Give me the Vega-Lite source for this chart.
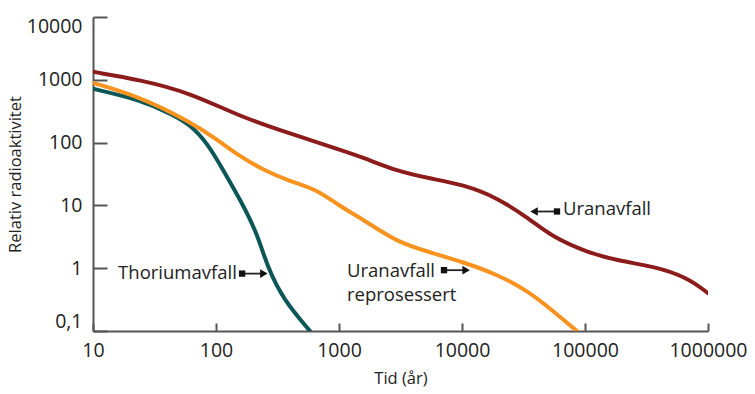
{
  "$schema": "https://vega.github.io/schema/vega-lite/v6.json",
  "width": 615,
  "height": 314,
  "autosize": {"type": "none"},
  "padding": {"left": 93, "top": 17, "right": 47, "bottom": 63},
  "background": "white",
  "config": {
    "view": {"stroke": null},
    "font": "Open Sans",
    "axis": {"grid": false, "domainColor": "#555", "domainWidth": 2, "tickColor": "#555", "tickWidth": 2, "labelColor": "#222", "titleColor": "#222", "labelFont": "Open Sans", "titleFont": "Open Sans", "labelFontSize": 19.5, "titleFontSize": 16.5, "titleFontWeight": "normal"}
  },
  "datasets": {
    "curves": [
      {"series": "Uranavfall", "year": 10, "value": 1340},
      {"series": "Uranavfall", "year": 24.1, "value": 1000},
      {"series": "Uranavfall", "year": 61.5, "value": 622},
      {"series": "Uranavfall", "year": 157, "value": 259},
      {"series": "Uranavfall", "year": 400, "value": 139},
      {"series": "Uranavfall", "year": 1019, "value": 77},
      {"series": "Uranavfall", "year": 1567, "value": 58},
      {"series": "Uranavfall", "year": 2963, "value": 35},
      {"series": "Uranavfall", "year": 5500, "value": 26.8},
      {"series": "Uranavfall", "year": 10190, "value": 21.5},
      {"series": "Uranavfall", "year": 19270, "value": 13.4},
      {"series": "Uranavfall", "year": 35700, "value": 6.0},
      {"series": "Uranavfall", "year": 55000, "value": 3.1},
      {"series": "Uranavfall", "year": 103800, "value": 1.79},
      {"series": "Uranavfall", "year": 192800, "value": 1.29},
      {"series": "Uranavfall", "year": 357000, "value": 1.08},
      {"series": "Uranavfall", "year": 675000, "value": 0.72},
      {"series": "Uranavfall", "year": 1000000, "value": 0.4},
      {"series": "Uranavfall reprosessert", "year": 10, "value": 895},
      {"series": "Uranavfall reprosessert", "year": 24.1, "value": 537},
      {"series": "Uranavfall reprosessert", "year": 61.5, "value": 215},
      {"series": "Uranavfall reprosessert", "year": 102, "value": 112},
      {"series": "Uranavfall reprosessert", "year": 157, "value": 60},
      {"series": "Uranavfall reprosessert", "year": 241, "value": 37},
      {"series": "Uranavfall reprosessert", "year": 400, "value": 24},
      {"series": "Uranavfall reprosessert", "year": 662, "value": 18},
      {"series": "Uranavfall reprosessert", "year": 1019, "value": 9.6},
      {"series": "Uranavfall reprosessert", "year": 1567, "value": 6.0},
      {"series": "Uranavfall reprosessert", "year": 2963, "value": 2.59},
      {"series": "Uranavfall reprosessert", "year": 5500, "value": 1.79},
      {"series": "Uranavfall reprosessert", "year": 10190, "value": 1.25},
      {"series": "Uranavfall reprosessert", "year": 19270, "value": 0.8},
      {"series": "Uranavfall reprosessert", "year": 35700, "value": 0.416},
      {"series": "Uranavfall reprosessert", "year": 55000, "value": 0.207},
      {"series": "Uranavfall reprosessert", "year": 86100, "value": 0.1},
      {"series": "Thoriumavfall", "year": 10, "value": 720},
      {"series": "Thoriumavfall", "year": 24.1, "value": 482},
      {"series": "Thoriumavfall", "year": 44.7, "value": 278},
      {"series": "Thoriumavfall", "year": 61.5, "value": 193},
      {"series": "Thoriumavfall", "year": 84.5, "value": 100},
      {"series": "Thoriumavfall", "year": 114, "value": 37},
      {"series": "Thoriumavfall", "year": 157, "value": 12.4},
      {"series": "Thoriumavfall", "year": 215, "value": 3.7},
      {"series": "Thoriumavfall", "year": 260, "value": 1.08},
      {"series": "Thoriumavfall", "year": 351, "value": 0.32},
      {"series": "Thoriumavfall", "year": 581, "value": 0.1}
    ],
    "labels": [
      {"label": "Thoriumavfall", "year": 16, "value": 0.84},
      {"label": "Uranavfall", "year": 1161, "value": 0.9},
      {"label": "reprosessert", "year": 1161, "value": 0.374},
      {"label": "Uranavfall", "year": 66200, "value": 8.77}
    ],
    "arrows": [
      {"from": 163, "to": 245, "value": 0.82, "head": "triangle-right"},
      {"from": 7140, "to": 10800, "value": 0.93, "head": "triangle-right"},
      {"from": 59200, "to": 38500, "value": 8.0, "head": "triangle-left"}
    ]
  },
  "layer": [
    {
      "data": {"name": "curves"},
      "transform": [{"filter": "datum.series === 'Thoriumavfall'"}],
      "mark": {"type": "line", "interpolate": "basis", "strokeWidth": 4, "strokeCap": "round", "color": "#0b5656", "clip": true},
      "encoding": {
        "x": {"field": "year", "type": "quantitative", "scale": {"type": "log", "domain": [10, 1000000], "nice": false},
          "axis": {"values": [10, 100, 1000, 10000, 100000, 1000000], "format": "d", "title": "Tid (år)", "tickSize": -8, "labelPadding": 18, "labelFlush": false, "titlePadding": 11}},
        "y": {"field": "value", "type": "quantitative", "scale": {"type": "log", "domain": [0.1, 10000], "nice": false},
          "axis": {"values": [0.1, 1, 10, 100, 1000, 10000], "labelExpr": "datum.value < 1 ? '0,1' : format(datum.value, 'd')", "title": "Relativ radioaktivitet", "tickSize": -14, "labelPadding": 25, "labelFlush": true, "titlePadding": 3}}
      }
    },
    {
      "data": {"name": "curves"},
      "transform": [{"filter": "datum.series === 'Uranavfall reprosessert'"}],
      "mark": {"type": "line", "interpolate": "basis", "strokeWidth": 4, "strokeCap": "round", "color": "#f7931e", "clip": true},
      "encoding": {
        "x": {"field": "year", "type": "quantitative"},
        "y": {"field": "value", "type": "quantitative"}
      }
    },
    {
      "data": {"name": "curves"},
      "transform": [{"filter": "datum.series === 'Uranavfall'"}],
      "mark": {"type": "line", "interpolate": "basis", "strokeWidth": 4, "strokeCap": "round", "color": "#8c1c1c", "clip": true},
      "encoding": {
        "x": {"field": "year", "type": "quantitative"},
        "y": {"field": "value", "type": "quantitative"}
      }
    },
    {
      "data": {"name": "arrows"},
      "mark": {"type": "rule", "strokeWidth": 1.8, "color": "#222"},
      "encoding": {
        "x": {"field": "from", "type": "quantitative"},
        "x2": {"field": "to"},
        "y": {"field": "value", "type": "quantitative"}
      }
    },
    {
      "data": {"name": "arrows"},
      "mark": {"type": "point", "shape": "square", "filled": true, "size": 40, "color": "#111", "opacity": 1},
      "encoding": {
        "x": {"field": "from", "type": "quantitative"},
        "y": {"field": "value", "type": "quantitative"}
      }
    },
    {
      "data": {"name": "arrows"},
      "mark": {"type": "point", "filled": true, "size": 75, "color": "#111", "opacity": 1},
      "encoding": {
        "x": {"field": "to", "type": "quantitative"},
        "y": {"field": "value", "type": "quantitative"},
        "shape": {"field": "head", "type": "nominal", "scale": null}
      }
    },
    {
      "data": {"name": "labels"},
      "mark": {"type": "text", "align": "left", "baseline": "middle", "font": "Open Sans", "fontSize": 18.5, "color": "#222"},
      "encoding": {
        "x": {"field": "year", "type": "quantitative"},
        "y": {"field": "value", "type": "quantitative"},
        "text": {"field": "label", "type": "nominal"}
      }
    }
  ]
}
